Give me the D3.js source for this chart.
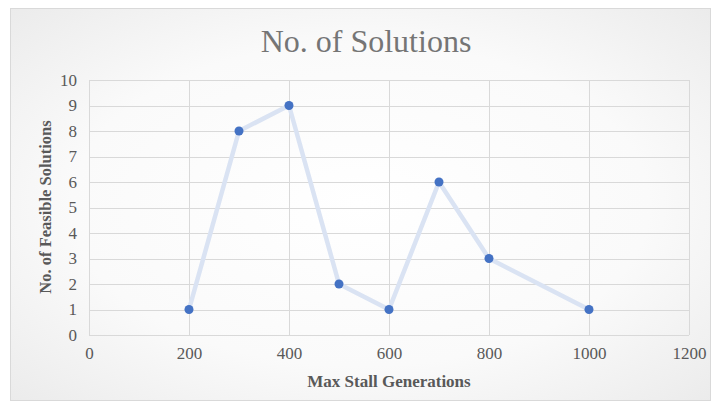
<!DOCTYPE html>
<html><head><meta charset="utf-8">
<script src="https://cdn.jsdelivr.net/npm/d3@7"></script>
<style>html,body{margin:0;padding:0;background:#fff;}svg{display:block;}</style>
</head><body>
<svg id="c" width="713" height="408"></svg>
<script>
const xValues = [200, 300, 400, 500, 600, 700, 800, 1000];
const yValues = [1, 8, 9, 2, 1, 6, 3, 1];
const xTicks = [0, 200, 400, 600, 800, 1000, 1200];
const yTicks = [0, 1, 2, 3, 4, 5, 6, 7, 8, 9, 10];
const title = "No. of Solutions";
const xTitle = "Max Stall Generations";
const yTitle = "No. of Feasible Solutions";

const svg = d3.select("#c");
const defs = svg.append("defs");
const g = defs.append("radialGradient").attr("id","bg").attr("cx","50%").attr("cy","50%").attr("r","75%");
g.append("stop").attr("offset","0%").attr("stop-color","#ffffff");
g.append("stop").attr("offset","55%").attr("stop-color","#fafafa");
g.append("stop").attr("offset","100%").attr("stop-color","#e9e9e9");
svg.append("rect").attr("x",10.5).attr("y",8.5).attr("width",700).attr("height",392)
  .attr("fill","url(#bg)").attr("stroke","#d9d9d9").attr("stroke-width",1);

const x = d3.scaleLinear().domain([0,1200]).range([89,689]);
const y = d3.scaleLinear().domain([0,10]).range([335,80]);
const font = "'Liberation Serif','Times New Roman',serif";

// gridlines
svg.append("g").selectAll("line").data(yTicks).join("line")
  .attr("x1",x(0)).attr("x2",x(1200)).attr("y1",d=>Math.round(y(d))+0.5).attr("y2",d=>Math.round(y(d))+0.5)
  .attr("stroke","#d9d9d9").attr("stroke-width",1);
svg.append("g").selectAll("line").data(xTicks).join("line")
  .attr("y1",y(0)).attr("y2",y(10)).attr("x1",d=>Math.round(x(d))+0.5).attr("x2",d=>Math.round(x(d))+0.5)
  .attr("stroke","#d9d9d9").attr("stroke-width",1);

// axes labels via d3 axes
const xAxis = svg.append("g").attr("transform",`translate(0,${y(0)})`)
  .call(d3.axisBottom(x).tickValues(xTicks).tickSize(0).tickPadding(12).tickFormat(d3.format("d")));
const yAxis = svg.append("g").attr("transform",`translate(${x(0)},0)`)
  .call(d3.axisLeft(y).tickValues(yTicks).tickSize(0).tickPadding(12).tickFormat(d3.format("d")));
[xAxis,yAxis].forEach(a=>{
  a.select(".domain").remove();
  a.selectAll("text").attr("font-family",font).attr("font-size","17px").attr("fill","#595959");
});

// line
const line = d3.line().x((d,i)=>x(xValues[i])).y(d=>y(d));
svg.append("path").datum(yValues).attr("d",line).attr("fill","none")
  .attr("stroke","#dae3f3").attr("stroke-width",4.5).attr("stroke-linejoin","round").attr("stroke-linecap","round");
svg.append("g").selectAll("circle").data(yValues).join("circle")
  .attr("cx",(d,i)=>x(xValues[i])).attr("cy",d=>y(d)).attr("r",4.5).attr("fill","#4472c4");

// titles
svg.append("text").attr("x",366).attr("y",52).attr("text-anchor","middle")
  .attr("font-family",font).attr("font-size","32px").attr("fill","#757575").text(title);
svg.append("text").attr("x",389).attr("y",387).attr("text-anchor","middle")
  .attr("font-family",font).attr("font-size","17px").attr("font-weight","bold").attr("fill","#595959").text(xTitle);
svg.append("text").attr("transform","translate(51,207) rotate(-90)").attr("text-anchor","middle")
  .attr("font-family",font).attr("font-size","16.5px").attr("font-weight","bold").attr("fill","#595959").text(yTitle);
</script>
</body></html>
